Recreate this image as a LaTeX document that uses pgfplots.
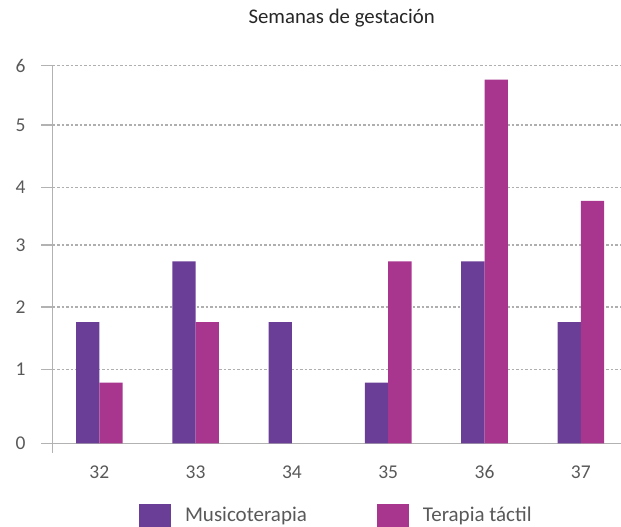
\documentclass[border=0pt]{standalone}
\usepackage{pgfplots}
\pgfplotsset{compat=1.18}
\usepackage{fontspec}
\setmainfont{Carlito}
\definecolor{musico}{RGB}{106,61,150}
\definecolor{tactil}{RGB}{168,54,143}
\definecolor{axisgray}{RGB}{178,178,178}
\definecolor{gridgray}{RGB}{175,175,175}
\definecolor{labelgray}{RGB}{89,89,89}

\begin{document}
\begin{tikzpicture}
\useasboundingbox (-52.7pt,-83.7pt) rectangle (568.3pt,443.3pt);
\begin{axis}[
  at={(0pt,0pt)}, anchor=south west,
  scale only axis, width=568.3pt, height=377.6pt,
  xmin=-0.484, xmax=5.417, ymin=0, ymax=6.23,
  ybar=0pt, bar width=23.3pt,
  axis x line*=bottom, axis y line*=left,
  axis line style={axisgray, line width=1.5pt, -},
  xtick={0,...,5}, xticklabels={32,33,34,35,36,37},
  x tick style={draw=none},
  ytick={0,1.22,2.25,3.27,4.22,5.25,6.23}, yticklabels={0,1,2,3,4,5,6},
  y tick style={axisgray, line width=1.5pt},
  tick align=outside, major tick length=11.7pt,
  ymajorgrids,
  grid style={gridgray, line width=1.3pt, dash pattern=on 2.5pt off 2pt},
  ticklabel style={font=\fontsize{19.5}{20}\selectfont, text=labelgray},
  xticklabel style={anchor=base, yshift=-23pt},
  yticklabel style={anchor=east, xshift=-12pt},
  title={Semanas de gestación},
  title style={at={(axis description cs:0.5085,1.0965)}, anchor=base,
    font=\fontsize{20.8}{21}\selectfont, text=black!85},
  legend columns=2,
  legend image code/.code={\fill[#1, draw=none] (0pt,-20.3pt) rectangle (31.7pt,10.7pt);},
  legend style={draw=none, fill=none, inner sep=0pt, outer sep=0pt,
    font=\fontsize{21}{21}\selectfont, text=labelgray,
    at={(axis description cs:0.1519,-0.2024)}, anchor=west,
    nodes={inner sep=0pt},
    /tikz/every odd column/.append style={column sep=14.3pt},
    /tikz/every even column/.append style={column sep=70pt}},
]
\addplot[fill=musico, draw=none] coordinates {(0,2) (1,3) (2,2) (3,1) (4,3) (5,2)};
\addlegendentry{Musicoterapia}
\addplot[fill=tactil, draw=none] coordinates {(0,1) (1,2) (3,3) (4,6) (5,4)};
\addlegendentry{Terapia táctil}
\end{axis}
\draw[axisgray, line width=1.5pt] (0pt,0pt) -- (0pt,-10pt);
\end{tikzpicture}
\end{document}
